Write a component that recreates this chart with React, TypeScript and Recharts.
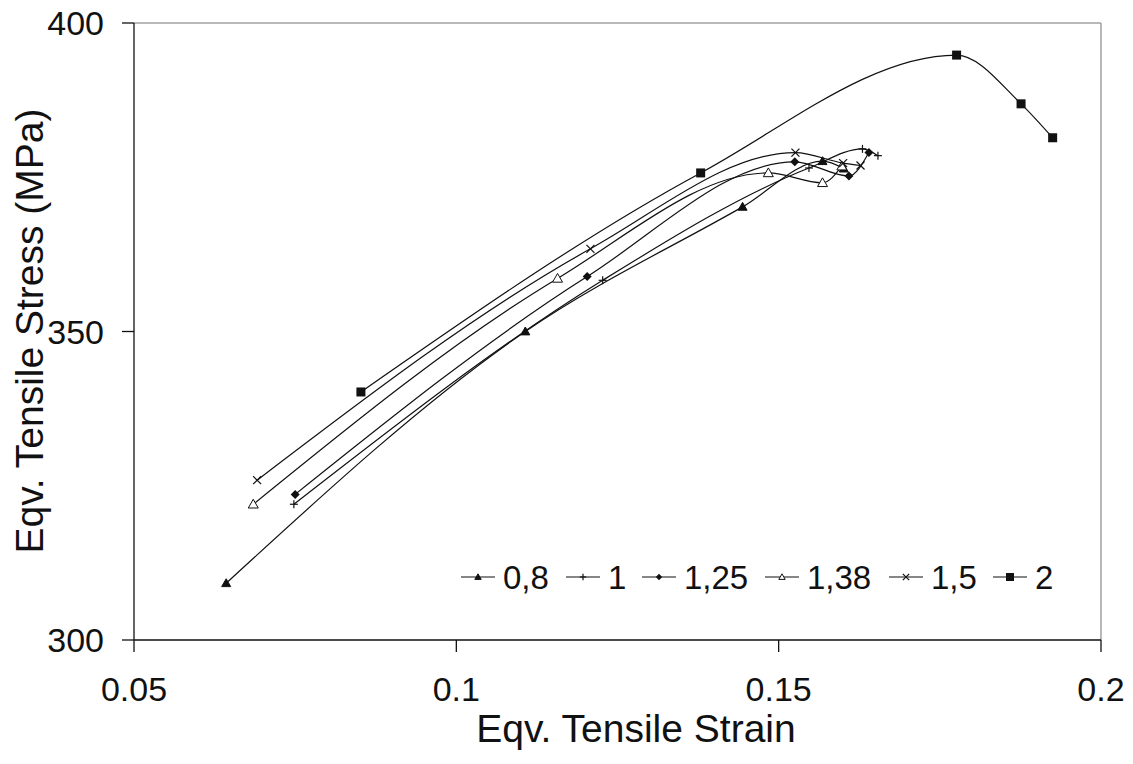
import React from 'react';
import { ScatterChart, Scatter, XAxis, YAxis, ReferenceLine } from 'recharts';

// strain / stress pairs for each series
const strain08 = [0.0643, 0.1107, 0.1444, 0.1568, 0.1601];
const stress08 = [309.2, 350.0, 370.2, 377.6, 376.4];

const strain1 = [0.0748, 0.1227, 0.1547, 0.163, 0.1654];
const stress1 = [322.0, 358.3, 376.5, 379.6, 378.5];

const strain125 = [0.075, 0.1203, 0.1525, 0.1609, 0.164];
const stress125 = [323.6, 358.9, 377.5, 375.2, 379.0];

const strain138 = [0.0685, 0.1157, 0.1484, 0.1568, 0.1598];
const stress138 = [322.0, 358.6, 375.7, 374.1, 376.8];

const strain15 = [0.0691, 0.1208, 0.1526, 0.16, 0.1627];
const stress15 = [325.9, 363.4, 379.0, 377.3, 376.9];

const strain2 = [0.0852, 0.1379, 0.1776, 0.1876, 0.1925];
const stress2 = [340.2, 375.7, 394.8, 386.9, 381.4];

const seriesNames = ['0,8', '1', '1,25', '1,38', '1,5', '2'];
const xTicks = [0.05, 0.1, 0.15, 0.2];
const yTicks = [300, 350, 400];

type Kind = 'triFill' | 'plus' | 'diamond' | 'triOpen' | 'cross' | 'square';

const toPoints = (xs: number[], ys: number[]) => xs.map((x, i) => ({ x, y: ys[i] }));

const series: { name: string; kind: Kind; data: { x: number; y: number }[] }[] = [
  { name: seriesNames[0], kind: 'triFill', data: toPoints(strain08, stress08) },
  { name: seriesNames[1], kind: 'plus', data: toPoints(strain1, stress1) },
  { name: seriesNames[2], kind: 'diamond', data: toPoints(strain125, stress125) },
  { name: seriesNames[3], kind: 'triOpen', data: toPoints(strain138, stress138) },
  { name: seriesNames[4], kind: 'cross', data: toPoints(strain15, stress15) },
  { name: seriesNames[5], kind: 'square', data: toPoints(strain2, stress2) },
];

const INK = '#111';
const FONT = '"Liberation Sans", Arial, sans-serif';

function Marker({ kind, cx, cy, s }: { kind: Kind; cx: number; cy: number; s: number }) {
  switch (kind) {
    case 'triFill':
    case 'triOpen':
      return (
        <polygon
          points={`${cx},${cy - s} ${cx + s},${cy + s * 0.75} ${cx - s},${cy + s * 0.75}`}
          fill={kind === 'triFill' ? INK : '#fff'}
          stroke={INK}
          strokeWidth={1}
        />
      );
    case 'diamond':
      return <polygon points={`${cx},${cy - s} ${cx + s},${cy} ${cx},${cy + s} ${cx - s},${cy}`} fill={INK} />;
    case 'square':
      return <rect x={cx - s} y={cy - s} width={s * 2} height={s * 2} fill={INK} />;
    case 'plus':
      return (
        <g stroke={INK} strokeWidth={1.2}>
          <line x1={cx} y1={cy - s} x2={cx} y2={cy + s} />
          <line x1={cx - s} y1={cy} x2={cx + s} y2={cy} />
        </g>
      );
    case 'cross':
      return (
        <g stroke={INK} strokeWidth={1.2}>
          <line x1={cx - s} y1={cy - s} x2={cx + s} y2={cy + s} />
          <line x1={cx - s} y1={cy + s} x2={cx + s} y2={cy - s} />
        </g>
      );
  }
}

const markerSize: Record<Kind, number> = {
  triFill: 4.5,
  plus: 4,
  diamond: 4.5,
  triOpen: 5,
  cross: 4,
  square: 4.5,
};

// legend entries laid out in one row inside the plot
const legendX = [461, 566, 642, 765, 889, 993];

const LegendRow = () => (
  <svg width={1133} height={764} style={{ position: 'absolute', left: 0, top: 0, pointerEvents: 'none' }}>
    {series.map((s, i) => {
      const x0 = legendX[i];
      const y = 577;
      return (
        <g key={s.name}>
          <line x1={x0} y1={y} x2={x0 + 34} y2={y} stroke={INK} strokeWidth={1.2} />
          <Marker kind={s.kind} cx={x0 + 17} cy={y} s={s.kind === 'square' ? 4 : 3.2} />
          <text x={x0 + 42} y={y} dominantBaseline="central" fontSize={33} fontFamily={FONT} fill={INK}>
            {s.name}
          </text>
        </g>
      );
    })}
  </svg>
);

export default function App() {
  return (
    <div style={{ position: 'absolute', left: 0, top: 0, width: 1133, height: 764, background: '#fff' }}>
      <ScatterChart width={1133} height={764} margin={{ top: 23, right: 32, bottom: 0, left: 0 }}>
        <XAxis
          type="number"
          dataKey="x"
          domain={[0.05, 0.2]}
          ticks={xTicks}
          allowDataOverflow
          height={124}
          tickSize={12}
          tickMargin={25}
          axisLine={{ stroke: INK, strokeWidth: 1.3 }}
          tickLine={{ stroke: INK, strokeWidth: 1.3 }}
          tick={{ fill: INK, fontSize: 34, fontFamily: FONT }}
          label={{
            content: () => (
              <text x={636} y={728} textAnchor="middle" dominantBaseline="central" fontSize={39} fontFamily={FONT} fill={INK}>
                Eqv. Tensile Strain
              </text>
            ),
          }}
        />
        <YAxis
          type="number"
          dataKey="y"
          domain={[300, 400]}
          ticks={yTicks}
          allowDataOverflow
          width={134}
          tickSize={12}
          tickMargin={18}
          axisLine={{ stroke: INK, strokeWidth: 1.3 }}
          tickLine={{ stroke: INK, strokeWidth: 1.3 }}
          tick={{ fill: INK, fontSize: 34, fontFamily: FONT }}
          label={{
            content: () => (
              <text
                x={29}
                y={331}
                transform="rotate(-90, 29, 331)"
                textAnchor="middle"
                dominantBaseline="central"
                fontSize={39}
                fontFamily={FONT}
                fill={INK}
              >
                Eqv. Tensile Stress (MPa)
              </text>
            ),
          }}
        />
        <ReferenceLine y={400} stroke="#a0a0a0" strokeWidth={1.5} />
        <ReferenceLine x={0.2} stroke="#a0a0a0" strokeWidth={1.5} />
        {series.map((s) => (
          <Scatter
            key={s.name}
            name={s.name}
            data={s.data}
            isAnimationActive={false}
            line={{ stroke: INK, strokeWidth: 1.2 }}
            lineType="joint"
            lineJointType="monotoneX"
            shape={(p: any) => <Marker kind={s.kind} cx={p.cx} cy={p.cy} s={markerSize[s.kind]} />}
          />
        ))}
      </ScatterChart>
      <LegendRow />
    </div>
  );
}
